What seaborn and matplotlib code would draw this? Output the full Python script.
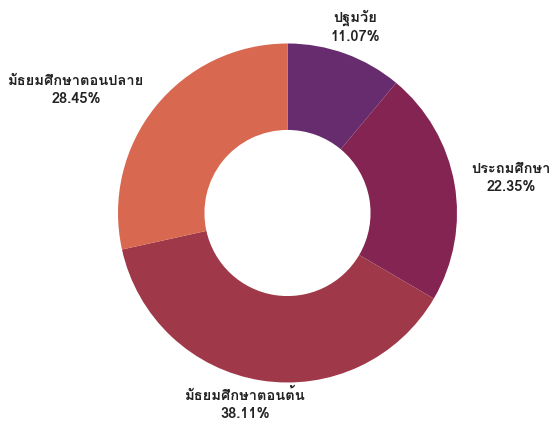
import matplotlib
matplotlib.use("Agg")
import matplotlib.pyplot as plt
import seaborn as sns
import numpy as np
from matplotlib import font_manager
from matplotlib.ft2font import FT2Font

# ---- data ----
categories = ["ปฐมวัย", "ประถมศึกษา", "มัธยมศึกษาตอนต้น", "มัธยมศึกษาตอนปลาย"]
shares = [11.07, 22.35, 38.11, 28.45]
colors = ["#672c6e", "#832452", "#9f3848", "#d8684f"]

# ---- fonts ----
sns.set_theme(style="white")

def find_thai_font():
    found = []
    for f in font_manager.fontManager.ttflist:
        try:
            cm = FT2Font(f.fname).get_charmap()
        except Exception:
            continue
        if 0x0E1B in cm and 0x0E34 in cm:
            found.append(f.name)
    return found

thai = find_thai_font()
fam = ([thai[0]] if thai else []) + ["DejaVu Sans"]
plt.rcParams["font.family"] = fam

fig = plt.figure(figsize=(5.52, 4.23), dpi=100)
ax = fig.add_axes([0, 0, 1, 1])

R = 1.0
wedges, _ = ax.pie(shares, colors=colors, startangle=90, counterclock=False,
                   radius=R, wedgeprops=dict(width=0.51, edgecolor="none"))

# label placement (layout only): radial distance and angular nudge (deg)
label_dist = [1.17, 1.335, 1.155, 1.444]
label_nudge = [0.0, 1.0, 3.6, -8.5]
cum = np.cumsum([0] + shares)
for i, (cat, v) in enumerate(zip(categories, shares)):
    mid = (cum[i] + v / 2) / 100 * 2 * np.pi + np.deg2rad(label_nudge[i])
    d = label_dist[i]
    x, y = d * np.sin(mid), d * np.cos(mid)
    ax.text(x, y, f"{cat}\n{v:.2f}%", ha="center", va="center",
            fontsize=10.5, fontweight="bold", color="#222222", linespacing=1.35)

px = 169.5
cx, cy = 287.5, 213
ax.set_xlim(-cx / px, (552 - cx) / px)
ax.set_ylim(-(423 - cy) / px, cy / px)
ax.set_aspect("auto")
ax.axis("off")

fig.savefig("out.png", dpi=100)
